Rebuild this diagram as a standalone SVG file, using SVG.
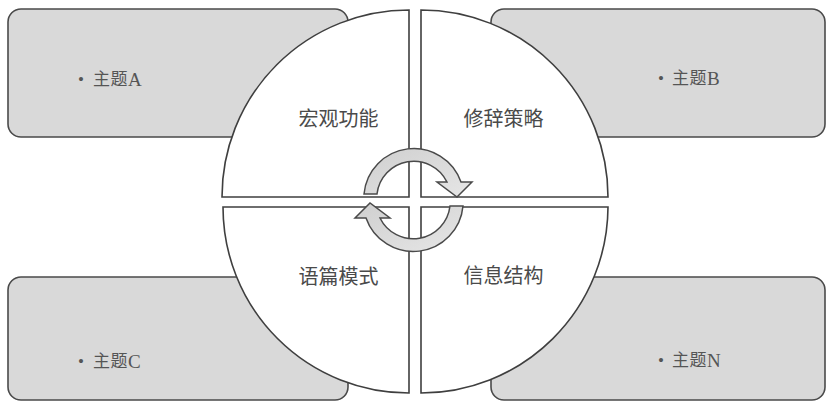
<svg xmlns="http://www.w3.org/2000/svg" width="827" height="402" viewBox="0 0 827 402">
<defs>
<style>
.topic{fill:#d9d9d9;stroke:#4a4a4a;stroke-width:1.6}
.quad{fill:#ffffff;stroke:#3f3f3f;stroke-width:1.6}
.arrow{fill:url(#ag);stroke:#4a4a4a;stroke-width:1.5;stroke-linejoin:miter}
.tl{font-family:"Liberation Serif","Noto Sans CJK SC",serif;font-size:17px;fill:#555;letter-spacing:0.5px}
.lt{font-size:19px}
.ql{font-family:"Liberation Serif","Noto Sans CJK SC",serif;font-size:20px;fill:#4a4a4a;text-anchor:middle;dominant-baseline:central}
</style>
<linearGradient id="ag" x1="0" y1="0" x2="1" y2="1">
<stop offset="0" stop-color="#cfcfcf"/>
<stop offset="1" stop-color="#e6e6e6"/>
</linearGradient>
</defs>
<rect width="827" height="402" fill="#ffffff"/>
<g id="topicA">
<rect class="topic" x="8" y="9" width="340" height="128" rx="13"/>
<text class="tl" x="78" y="79" dominant-baseline="central">•<tspan x="93">主题</tspan><tspan class="lt">A</tspan></text>
</g>
<g id="topicB">
<rect class="topic" x="491" y="9" width="334" height="128" rx="13"/>
<text class="tl" x="658" y="78" dominant-baseline="central">•<tspan x="672">主题</tspan><tspan class="lt">B</tspan></text>
</g>
<g id="topicC">
<rect class="topic" x="8" y="277" width="340" height="123" rx="13"/>
<text class="tl" x="78" y="361" dominant-baseline="central">•<tspan x="93">主题</tspan><tspan class="lt">C</tspan></text>
</g>
<g id="topicN">
<rect class="topic" x="491" y="277" width="334" height="123" rx="13"/>
<text class="tl" x="658" y="360" dominant-baseline="central">•<tspan x="672">主题</tspan><tspan class="lt">N</tspan></text>
</g>
<g id="q1">
<path class="quad" d="M409 197 L222 197 A187 187 0 0 1 409 10 Z"/>
<text class="ql" x="338.5" y="119">宏观功能</text>
</g>
<g id="q2">
<path class="quad" d="M421 197 L421 10 A187 187 0 0 1 608 197 Z"/>
<text class="ql" x="503.5" y="119">修辞策略</text>
</g>
<g id="q3">
<path class="quad" d="M409 207 L409 393 A186 186 0 0 1 223 207 Z"/>
<text class="ql" x="338.5" y="277">语篇模式</text>
</g>
<g id="q4">
<path class="quad" d="M421 207 L608 207 A187 187 0 0 1 421 393 Z"/>
<text class="ql" x="503.5" y="276">信息结构</text>
</g>
<g id="connectors">
<path class="arrow" d="M364 194 A50 50 0 0 1 461 182 L472 182 L457 197 L437 182 L447 182 A37 37 0 0 0 377 194 Z"/>
<path class="arrow" d="M463 206 A50 50 0 0 1 366 218 L355 218 L370 203 L390 218 L380 218 A37 37 0 0 0 450 206 Z"/>
</g>
</svg>
